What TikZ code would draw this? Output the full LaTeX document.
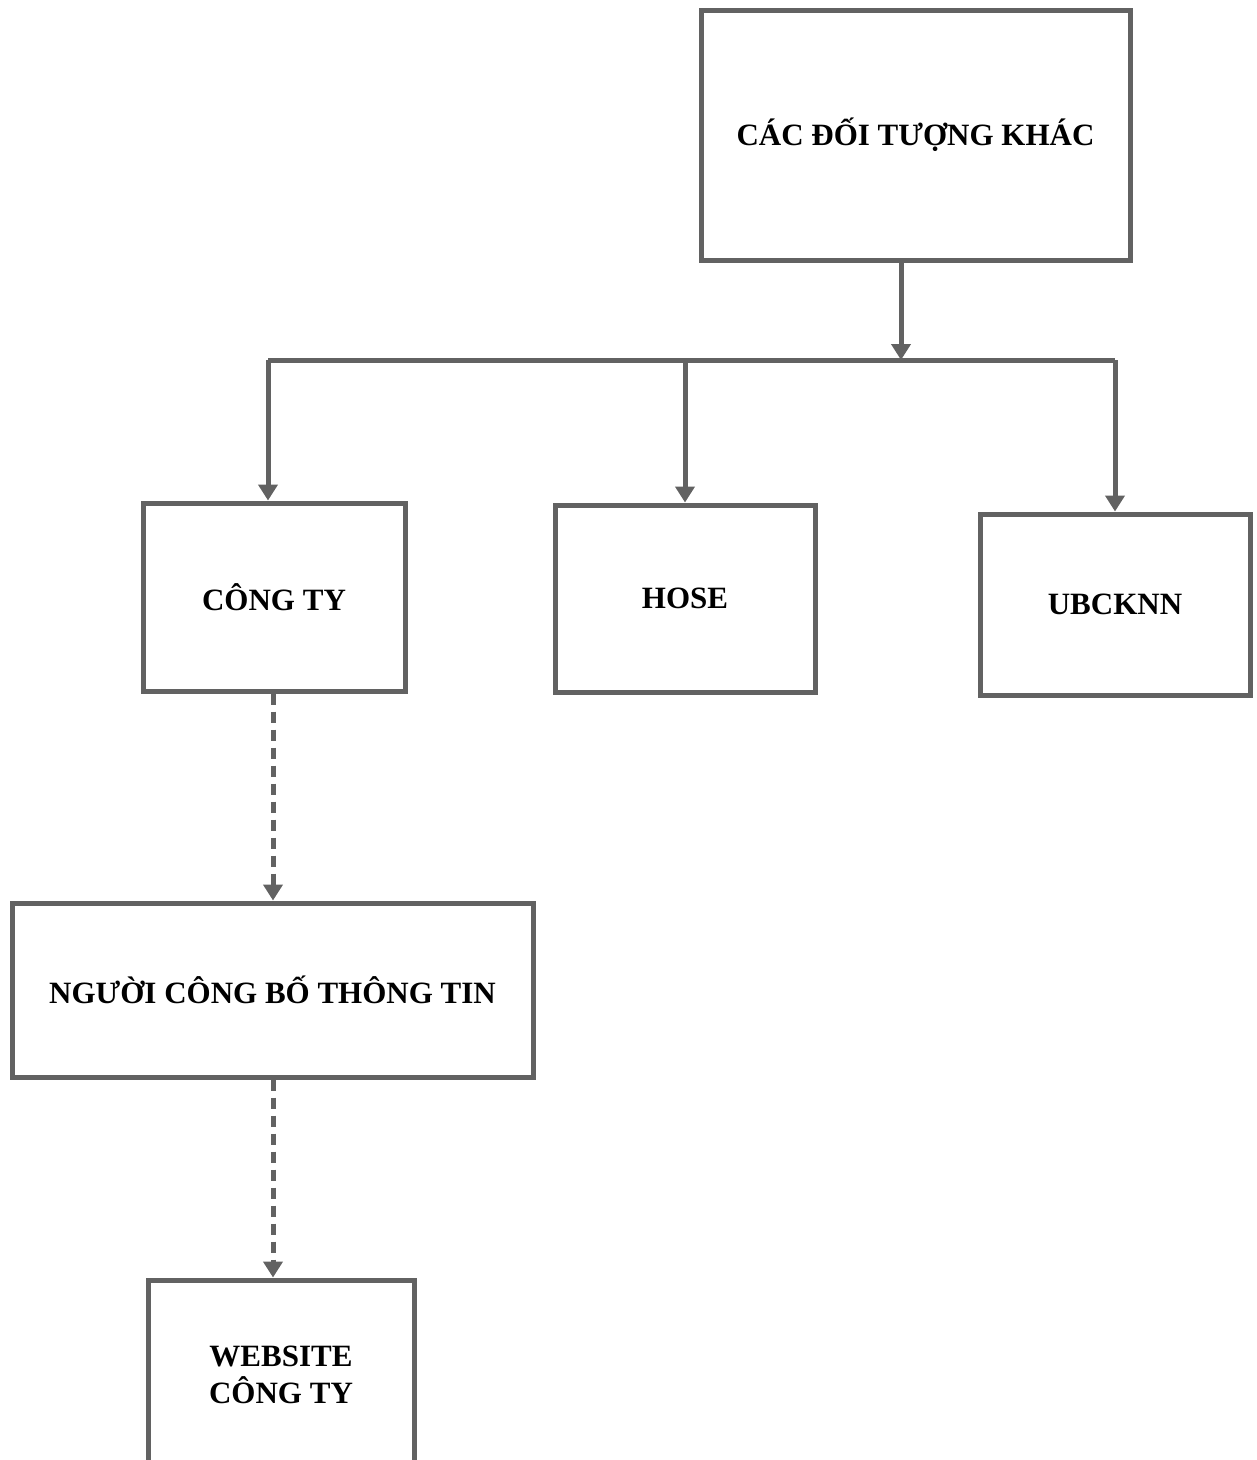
\documentclass[tikz,border=0pt]{standalone}
\usepackage{fontspec}
\setmainfont{Liberation Serif}
\usetikzlibrary{arrows.meta}
\definecolor{lin}{RGB}{98,98,98}
\tikzset{
  box/.style={draw=lin, line width=5pt, fill=white, inner sep=0pt, align=center,
    font=\fontsize{31}{37}\selectfont\bfseries},
  conn/.style={draw=lin, line width=5pt, -{Triangle[width=19pt,length=16pt]}},
  plain/.style={draw=lin, line width=5pt},
  dconn/.style={draw=lin, line width=5pt, dash pattern=on 11pt off 7pt, -{Triangle[width=19pt,length=16pt]}}
}
\begin{document}
\begin{tikzpicture}[x=1pt,y=-1pt]
\useasboundingbox (0,0) rectangle (1257,1460);
\clip (0,0) rectangle (1257,1460);
\fill[white] (0,0) rectangle (1257,1460);
\node[box, minimum width=429pt, minimum height=250pt] (top) at (915.5,135) {CÁC ĐỐI TƯỢNG KHÁC};
\node[box, minimum width=262pt, minimum height=188pt] (congty) at (274,597) {CÔNG TY};
\node[box, minimum width=260pt, minimum height=187pt] (hose) at (685,598.5) {HOSE};
\node[box, minimum width=270pt, minimum height=181pt] (ubcknn) at (1115,604.5) {UBCKNN};
\node[box, minimum width=521pt, minimum height=174pt] (nguoi) at (272.5,990) {NGƯỜI CÔNG BỐ THÔNG TIN};
\node[box, minimum width=266pt, minimum height=190pt] (web) at (281,1375) {WEBSITE\\CÔNG TY};
\coordinate (split) at (901,360);
\coordinate (bl) at (268,360);
\coordinate (bm) at (685,360);
\coordinate (br) at (1115,360);
\coordinate (dl) at (273,0);
\draw[plain] (bl) -- (br);
\draw[conn] (top.south -| split) -- (split);
\draw[conn] (bl) -- (congty.north -| bl);
\draw[conn] (bm) -- (hose.north -| bm);
\draw[conn] (br) -- (ubcknn.north -| br);
\draw[dconn] (congty.south -| dl) -- (nguoi.north -| dl);
\draw[dconn] (nguoi.south -| dl) -- (web.north -| dl);
\end{tikzpicture}
\end{document}
